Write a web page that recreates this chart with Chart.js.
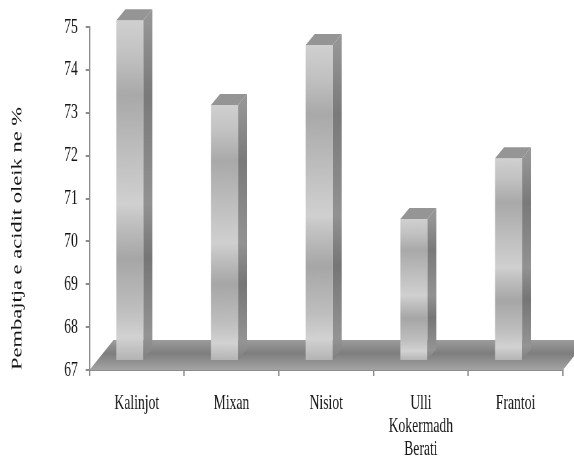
<!DOCTYPE html>
<html>
<head>
<meta charset="utf-8">
<title>Acidi oleik</title>
<script src="https://cdn.jsdelivr.net/npm/chart.js"></script>
<style>
    html, body { margin: 0; padding: 0; background: #fff; overflow: hidden; width: 574px; height: 463px; }
    /* The chart is laid out wide and squeezed sideways, which gives the narrow lettering */
    #chart { display: block; transform: scale(0.65, 1); transform-origin: 0 0; }
</style>
</head>
<body>
<canvas id="chart" width="883" height="463"></canvas>
<script>
    const categories = [
        'Kalinjot',
        'Mixan',
        'Nisiot',
        ['Ulli', 'Kokermadh', 'Berati'],
        'Frantoi'
    ];
    const oleicAcid = [74.95, 72.97, 74.37, 70.31, 71.73];
    const yTicks = [67, 68, 69, 70, 71, 72, 73, 74, 75];
    const yTitle = 'Pembajtja e acidit oleik ne %';

    const SQUEEZE = 0.65;
    const FONT = '"Liberation Serif", "Times New Roman", serif';

    // Offsets of the fake 3D look, in canvas pixels
    const FRONT_SHIFT = { x: -7 / SQUEEZE, y: -9 };
    const BAR_DEPTH = { x: 9 / SQUEEZE, y: -11 };
    const FLOOR_DEPTH = { x: 24 / SQUEEZE, y: -30 };

    function frontGradient(c) {
        const y = c.chart.scales.y;
        const top = y ? y.getPixelForValue(c.raw) : NaN;
        const base = y ? y.getPixelForValue(yTicks[0]) : NaN;
        // Scales have no size yet on the first pass
        if (!isFinite(top) || !isFinite(base)) return '#bbbbbb';

        const g = c.chart.ctx.createLinearGradient(0, top, 0, base);
        g.addColorStop(0, '#d0d0d0');
        g.addColorStop(0.1, '#c2c2c2');
        g.addColorStop(0.22, '#a9a9a9');
        g.addColorStop(0.38, '#bdbdbd');
        g.addColorStop(0.54, '#d0d0d0');
        g.addColorStop(0.58, '#c4c4c4');
        g.addColorStop(0.7, '#a6a6a6');
        g.addColorStop(0.85, '#bebebe');
        g.addColorStop(0.93, '#d2d2d2');
        g.addColorStop(1, '#b2b2b2');
        return g;
    }

    function fillPath(ctx, points, fill) {
        ctx.beginPath();
        points.forEach((p, i) => (i ? ctx.lineTo(p[0], p[1]) : ctx.moveTo(p[0], p[1])));
        ctx.closePath();
        ctx.fillStyle = fill;
        ctx.fill();
    }

    const solidBars = {
        id: 'solidBars',
        beforeDatasetsDraw(chart) {
            const { ctx, chartArea: a } = chart;

            // Floor the columns stand on
            const floor = ctx.createLinearGradient(0, a.bottom + FLOOR_DEPTH.y, 0, a.bottom);
            floor.addColorStop(0, '#9c9c9c');
            floor.addColorStop(0.45, '#7e7e7e');
            floor.addColorStop(1, '#a4a4a4');
            fillPath(ctx, [
                [a.left, a.bottom],
                [a.left + FLOOR_DEPTH.x, a.bottom + FLOOR_DEPTH.y],
                [a.right + FLOOR_DEPTH.x, a.bottom + FLOOR_DEPTH.y],
                [a.right, a.bottom]
            ], floor);

            // Column fronts sit a little behind the front edge of the floor
            ctx.save();
            ctx.translate(FRONT_SHIFT.x, FRONT_SHIFT.y);
        },
        afterDatasetsDraw(chart) {
            const { ctx } = chart;
            chart.getDatasetMeta(0).data.forEach(bar => {
                const left = bar.x - bar.width / 2;
                const right = bar.x + bar.width / 2;

                const side = ctx.createLinearGradient(0, bar.y, 0, bar.base);
                side.addColorStop(0, '#959595');
                side.addColorStop(0.22, '#7a7a7a');
                side.addColorStop(0.54, '#929292');
                side.addColorStop(0.7, '#767676');
                side.addColorStop(0.93, '#949494');
                side.addColorStop(1, '#808080');
                fillPath(ctx, [
                    [right, bar.y],
                    [right + BAR_DEPTH.x, bar.y + BAR_DEPTH.y],
                    [right + BAR_DEPTH.x, bar.base + BAR_DEPTH.y],
                    [right, bar.base]
                ], side);

                fillPath(ctx, [
                    [left, bar.y],
                    [left + BAR_DEPTH.x, bar.y + BAR_DEPTH.y],
                    [right + BAR_DEPTH.x, bar.y + BAR_DEPTH.y],
                    [right, bar.y]
                ], '#959595');
            });
            ctx.restore();
        }
    };

    new Chart(document.getElementById('chart'), {
        type: 'bar',
        data: {
            labels: categories,
            datasets: [{
                data: oleicAcid,
                base: yTicks[0],
                clip: false,
                barPercentage: 0.285,
                categoryPercentage: 1,
                borderWidth: 0,
                backgroundColor: frontGradient
            }]
        },
        options: {
            responsive: false,
            animation: false,
            devicePixelRatio: 1,
            layout: { padding: { top: 27, right: 17, left: 0, bottom: 0 } },
            plugins: {
                legend: { display: false },
                tooltip: { enabled: false }
            },
            scales: {
                x: {
                    afterFit: scale => { scale.height = 93; },
                    border: { color: '#8c8c8c', width: 2 },
                    grid: { drawOnChartArea: false, color: '#8c8c8c', lineWidth: 2, tickLength: 6 },
                    ticks: {
                        autoSkip: false,
                        maxRotation: 0,
                        padding: 16,
                        color: '#151515',
                        font: { family: FONT, size: 21, lineHeight: 1.1 }
                    }
                },
                y: {
                    beginAtZero: false,
                    min: yTicks[0],
                    max: yTicks[yTicks.length - 1],
                    afterFit: scale => { scale.width = 137.7; },
                    afterBuildTicks: scale => { scale.ticks = yTicks.map(value => ({ value })); },
                    border: { color: '#8c8c8c', width: 2 },
                    grid: { drawOnChartArea: false, color: '#8c8c8c', lineWidth: 2, tickLength: 6 },
                    ticks: {
                        padding: 12,
                        color: '#151515',
                        font: { family: FONT, size: 21 }
                    },
                    title: {
                        display: true,
                        text: yTitle,
                        align: 'start',
                        color: '#151515',
                        padding: { top: 14, bottom: 0 },
                        font: { family: FONT, size: 22.5 }
                    }
                }
            }
        },
        plugins: [solidBars]
    });
</script>
</body>
</html>
